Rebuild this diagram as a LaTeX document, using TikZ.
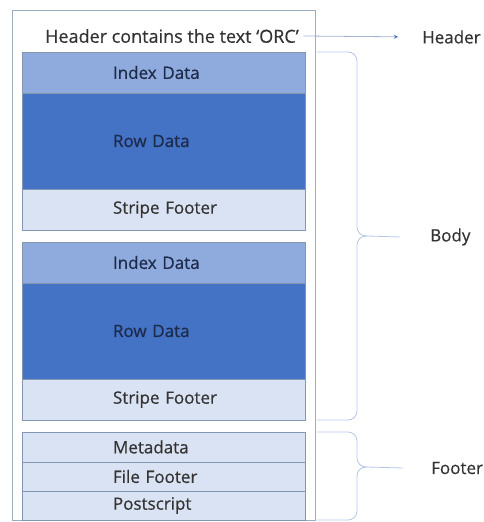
\documentclass[tikz,border=0pt]{standalone}
\usepackage{fontspec}
\setmainfont{Open Sans}[FakeBold=0.5]
\usetikzlibrary{arrows.meta, positioning}
\definecolor{idxblue}{HTML}{8FAADC}
\definecolor{rowblue}{HTML}{4472C4}
\definecolor{paleblue}{HTML}{DAE3F3}
\definecolor{edgegrey}{HTML}{8497B0}
\definecolor{bracegrey}{HTML}{B4C7E7}
\definecolor{txtgrey}{HTML}{333333}
\definecolor{navytxt}{HTML}{1C2B4A}

\begin{document}
\begin{tikzpicture}[x=1pt, y=1pt, font=\fontsize{17}{20}\selectfont,
    part/.style={draw=edgegrey, line width=0.7pt, minimum width=283pt, text width=283pt, align=left,
      execute at begin node={\hspace*{91pt}}, inner sep=0pt, outer sep=0pt, text=txtgrey},
    idx/.style={part, fill=idxblue, minimum height=41pt, text=navytxt},
    rows/.style={part, fill=rowblue, minimum height=96pt, text=navytxt},
    pale/.style={part, fill=paleblue},
    side/.style={anchor=west, inner sep=0pt, text=txtgrey},
    brc/.style={draw=bracegrey, line width=0.8pt, rounded corners=9pt}]
    \useasboundingbox (0,0) rectangle (484,-522);
    % File outline
    \node[draw=edgegrey!80, line width=0.8pt, minimum width=303pt, minimum height=510pt, inner sep=0pt] (file) at (163.5,-265) {};
    \node[text=txtgrey, font=\fontsize{18}{20}\selectfont] (hdr) at (172,-36) {Header contains the text `ORC'};
    % First stripe
    \node[idx] (idxA) at (163.5,-72.5) {Index Data};
    \node[rows, below=0pt of idxA] (rowA) {Row Data};
    \node[pale, minimum height=41pt, below=0pt of rowA] (sfA) {Stripe Footer};
    % Second stripe
    \node[idx, below=12pt of sfA] (idxB) {Index Data};
    \node[rows, below=0pt of idxB] (rowB) {Row Data};
    \node[pale, minimum height=41pt, below=0pt of rowB] (sfB) {Stripe Footer};
    % File footer
    \node[pale, minimum height=30pt, below=12pt of sfB] (meta) {Metadata};
    \node[pale, minimum height=29pt, below=0pt of meta] (ffoot) {File Footer};
    \node[pale, minimum height=29pt, below=0pt of ffoot] (post) {Postscript};
    % Labels on the right
    \node[side] (lblHeader) at (422,-37) {Header};
    \node[side] (lblBody) at (430,-237) {Body};
    \node[side] (lblFooter) at (431,-468) {Footer};
    \draw[draw=bracegrey!90!black, line width=0.8pt, -{Stealth[length=4pt, width=4pt, color=rowblue]}, shorten <=1pt, shorten >=24pt] (hdr.east) -- (lblHeader.west);
    % Braces
    \coordinate (bodytip) at (367,-236);
    \draw[brc] ([xshift=12pt]idxA.north east) -| ([xshift=-10pt]bodytip) -- (bodytip);
    \draw[brc] ([xshift=12pt]sfB.south east) -| ([xshift=-10pt]bodytip) -- (bodytip);
    \draw[brc] (bodytip) -- ([xshift=-30pt]lblBody.west);
    \coordinate (foottip) at (367,-467);
    \draw[brc] ([xshift=12pt]meta.north east) -| ([xshift=-10pt]foottip) -- (foottip);
    \draw[brc] ([xshift=12pt]post.south east) -| ([xshift=-10pt]foottip) -- (foottip);
    \draw[brc] (foottip) -- ([xshift=-28pt]lblFooter.west);
\end{tikzpicture}
\end{document}
